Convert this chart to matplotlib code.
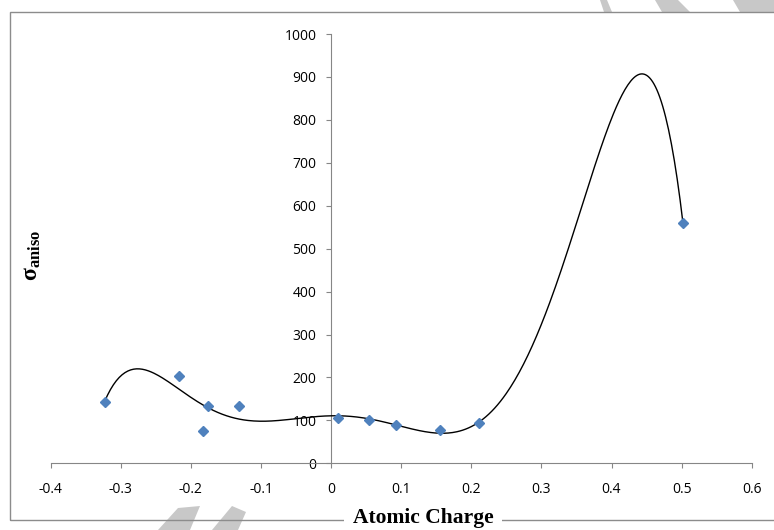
import numpy as np
import matplotlib
matplotlib.use("Agg")
import matplotlib.pyplot as plt
from matplotlib.patches import Rectangle, Polygon

# Data
charge = [-0.323, -0.217, -0.183, -0.175, -0.131, 0.010, 0.054, 0.092, 0.156, 0.211, 0.502]
sigma_aniso = [143, 204, 75, 134, 134, 106, 100, 89, 77, 93, 559]
x_ticks = [-0.4, -0.3, -0.2, -0.1, 0, 0.1, 0.2, 0.3, 0.4, 0.5, 0.6]
x_ticklabels = ["-0.4", "-0.3", "-0.2", "-0.1", "0", "0.1", "0.2", "0.3", "0.4", "0.5", "0.6"]
y_ticks = [0, 100, 200, 300, 400, 500, 600, 700, 800, 900, 1000]
trend_order = 6

plt.rcParams['font.family'] = ['Open Sans', 'DejaVu Sans']
plt.rcParams['mathtext.fontset'] = 'custom'
plt.rcParams['mathtext.rm'] = 'Liberation Serif'
plt.rcParams['mathtext.bf'] = 'Liberation Serif:bold'

W, H = 774, 530
fig = plt.figure(figsize=(W / 100, H / 100), dpi=100)

# watermark-like grey stripes
wm = '#c8c8c8'
for pts in [
    [(600, 0), (607, 0), (612, 12), (604, 12)],
    [(655, 0), (678, 0), (690, 12), (662, 12)],
    [(733, 0), (774, 0), (774, 12), (740, 12)],
    [(158, 530), (178, 508), (200, 506), (190, 530)],
    [(212, 530), (232, 506), (246, 512), (238, 530)],
]:
    fig.patches.append(Polygon([(x / W, 1 - y / H) for x, y in pts], closed=True,
                               transform=fig.transFigure, facecolor=wm, edgecolor='none', zorder=0))

# chart border
fig.patches.append(Rectangle((10 / W, 1 - 520 / H), (W + 5 - 10) / W, (520 - 12) / H,
                             transform=fig.transFigure, fill=False, edgecolor='#8c8c8c',
                             linewidth=1.0, zorder=1))

left, right = 50.7, 751.7
top, bottom = 34.0, 463.3
ax = fig.add_axes([left / W, 1 - bottom / H, (right - left) / W, (bottom - top) / H])
ax.set_xlim(-0.4, 0.6)
ax.set_ylim(0, 1000)
ax.patch.set_alpha(0)

for s in ['top', 'right']:
    ax.spines[s].set_visible(False)
ax.spines['left'].set_position(('data', 0))
ax.spines['bottom'].set_position(('data', 0))
for s in ['left', 'bottom']:
    ax.spines[s].set_color('#868686')
    ax.spines[s].set_linewidth(0.8)

ax.set_xticks(x_ticks)
ax.set_xticklabels(x_ticklabels)
ax.set_yticks(y_ticks)
ax.tick_params(axis='x', direction='out', length=3.5, width=0.8, color='#868686',
               labelsize=10, pad=10, labelcolor='black')
ax.tick_params(axis='y', direction='out', length=3.5, width=0.8, color='#868686',
               labelsize=10, pad=7, labelcolor='black')

# polynomial trendline fitted to the data
coef = np.polyfit(charge, sigma_aniso, trend_order)
xs = np.linspace(min(charge), max(charge), 400)
ax.plot(xs, np.polyval(coef, xs), color='black', linewidth=1.0, zorder=3)

ax.plot(charge, sigma_aniso, linestyle='none', marker='D', markersize=5,
        color='#4F81BD', markeredgecolor='#4F81BD', zorder=4, clip_on=False)

# axis titles
fig.text(32 / W, 1 - 255 / H, r'$\mathbf{σ_{aniso}}$', rotation=90, ha='center', va='center',
         fontsize=17)
fig.text(423 / W, 1 - 518 / H, 'Atomic Charge', ha='center', va='center',
         fontsize=15.5, fontweight='bold', family='Liberation Serif',
         bbox=dict(facecolor='white', edgecolor='none', pad=6), zorder=5)

fig.savefig('out.png', dpi=100)
